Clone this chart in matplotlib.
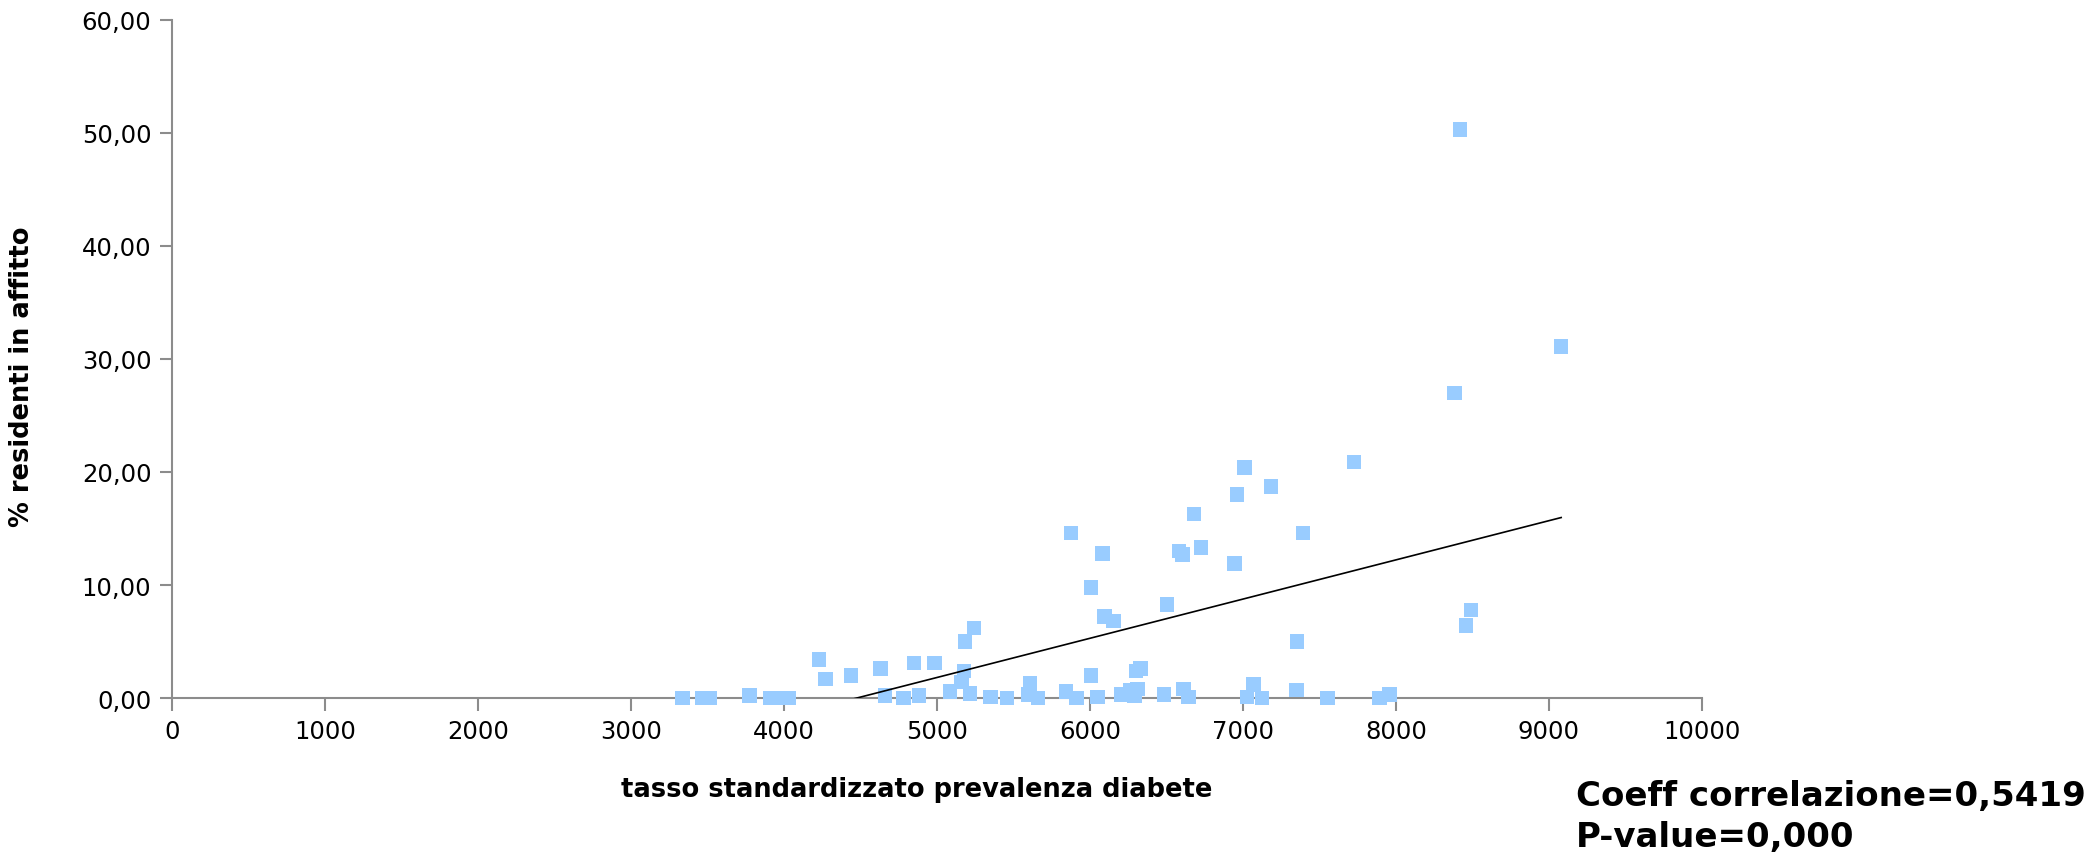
import numpy as np
import matplotlib.pyplot as plt
from matplotlib.ticker import FuncFormatter

# ── Dati ──────────────────────────────────────────────────────────────────────
diabete = [3337, 3466, 3516, 3773, 3908, 3997, 4033, 4227, 4270, 4436,
           4632, 4660, 4780, 4848, 4882, 4985, 5085, 5160, 5176, 5183,
           5216, 5242, 5351, 5458, 5595, 5608, 5661, 5842, 5876, 5913,
           6005, 6005, 6048, 6083, 6096, 6153, 6205, 6262, 6290, 6310,
           6300, 6330, 6484, 6502, 6582, 6606, 6611, 6643, 6680, 6726,
           6946, 6962, 7008, 7025, 7068, 7123, 7184, 7348, 7353, 7391,
           7552, 7726, 7892, 7958, 8381, 8420, 8457, 8490, 9080]
affitto = [0.0, 0.0, 0.0, 0.2, 0.0, 0.0, 0.0, 3.4, 1.7, 2.0,
           2.6, 0.2, 0.0, 3.1, 0.2, 3.1, 0.6, 1.4, 2.4, 5.0,
           0.4, 6.2, 0.1, 0.0, 0.3, 1.3, 0.0, 0.6, 14.6, 0.0,
           9.8, 2.0, 0.1, 12.8, 7.2, 6.8, 0.3, 0.7, 0.2, 0.8,
           2.4, 2.6, 0.3, 8.3, 13.0, 12.7, 0.8, 0.1, 16.3, 13.3,
           11.9, 18.0, 20.4, 0.1, 1.2, 0.0, 18.7, 0.7, 5.0, 14.6,
           0.0, 20.9, 0.0, 0.3, 27.0, 50.3, 6.4, 7.8, 31.1]

# retta di tendenza
trend_intercept = -15.52
trend_slope = 0.003468

x_ticks = list(range(0, 10001, 1000))
y_ticks = list(range(0, 61, 10))

testo_coeff = "Coeff correlazione=0,5419"
testo_pval = "P-value=0,000"

# ── Plot ──────────────────────────────────────────────────────────────────────
fig = plt.figure(figsize=(20.98, 8.53), dpi=100)
ax = fig.add_axes([0.0821, 0.1805, 0.7291, 0.795])

ax.scatter(diabete, affitto, marker='s', s=110, color='#99CCFF',
           edgecolors='none', zorder=3, clip_on=False)

tx = np.array([min(diabete), max(diabete)])
ax.plot(tx, trend_intercept + trend_slope * tx, color='black', lw=1.2, zorder=4)

ax.set_xlim(0, 10000)
ax.set_ylim(0, 60)
ax.set_xticks(x_ticks)
ax.set_yticks(y_ticks)
ax.yaxis.set_major_formatter(FuncFormatter(lambda v, p: f"{v:.2f}".replace('.', ',')))

for s in ['top', 'right']:
    ax.spines[s].set_visible(False)
for s in ['left', 'bottom']:
    ax.spines[s].set_color('#8c8c8c')
    ax.spines[s].set_linewidth(1.5)
ax.tick_params(direction='out', length=9, width=1.5, color='#8c8c8c',
               labelsize=17.5, pad=6)

ax.set_xlabel('tasso standardizzato prevalenza diabete', fontsize=18.5,
              fontweight='bold')
ax.set_ylabel('% residenti in affitto', fontsize=18.5, fontweight='bold')
ax.xaxis.set_label_coords(0.487, -0.115)
ax.yaxis.set_label_coords(-0.09, 0.475)

fig.text(0.751, 0.0556, testo_coeff, fontsize=24.5, fontweight='bold')
fig.text(0.751, 0.0076, testo_pval, fontsize=24.5, fontweight='bold')

fig.savefig('out.png', dpi=100)
